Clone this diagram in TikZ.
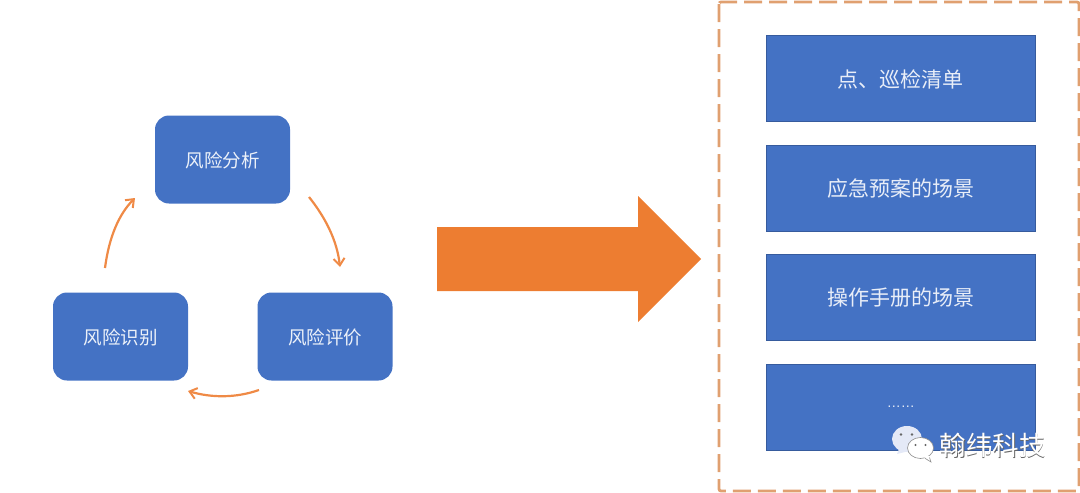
\documentclass[tikz,border=0pt]{standalone}
\usepackage{fontspec}
\setmainfont{Liberation Sans}
\newfontfamily\cjk{Noto Sans CJK SC}
\usetikzlibrary{arrows.meta,positioning}
\definecolor{boxblue}{HTML}{4472C4}
\definecolor{arrowor}{HTML}{ED7D31}
\definecolor{dashor}{HTML}{E0A070}
\definecolor{bubble}{HTML}{E4E9F7}
\newcommand{\lowr}[1]{\raisebox{-1pt}[\height][\depth]{#1}}
\tikzset{
  x=1pt,y=-1pt,
  roundbox/.style={fill=boxblue,rounded corners=14pt,minimum width=135pt,minimum height=88pt,inner sep=0pt,text=white!90!boxblue,font=\cjk\fontsize{18.5}{18.5}\selectfont},
  listbox/.style={fill=boxblue,draw=boxblue!80!black,line width=.5pt,minimum width=269.5pt,minimum height=86pt,inner sep=0pt,text=white!88!boxblue,font=\cjk\fontsize{21}{21}\selectfont},
  cyc/.style={draw=arrowor!90!white,line width=2.2pt,-{Straight Barb[length=7pt,width=11pt,line width=2pt]}},
  wm/.style={font=\cjk\fontsize{26.5}{26.5}\selectfont,inner sep=0pt}
}
\begin{document}
\begin{tikzpicture}
\useasboundingbox (0,0) rectangle (1080,493);
\node[roundbox] (analysis) at (222.5,159.5) {\lowr{风险分析}};
\node[roundbox] (identify) at (120.5,336.5) {\lowr{风险识别}};
\node[roundbox] (evaluate) at (325,336.5) {\lowr{风险评价}};
\coordinate (a1) at (105,268);
\coordinate (a2) at (135,198);
\coordinate (b1) at (309,197);
\coordinate (b2) at (340,267);
\coordinate (c1) at (259,390);
\coordinate (c2) at (188,391);
\draw[cyc] (a1) .. controls (109,237) and (119,214) .. (a2);
\draw[cyc] (b1) .. controls (325,217) and (337,240) .. (b2);
\draw[cyc] (c1) .. controls (236,398) and (212,398) .. (c2);
\fill[arrowor] (437,227) -- (638,227) -- (638,196) -- (701,259) -- (638,322) -- (638,291) -- (437,291) -- cycle;
\draw[dashor,line width=2.8pt,dash pattern=on 18pt off 7pt,rounded corners=2pt] (719,2) rectangle (1079,491);
\node[listbox] (l1) at (900.8,78) {\lowr{点、巡检清单}};
\node[listbox] (l2) at (900.8,188) {\lowr{应急预案的场景}};
\node[listbox] (l3) at (900.8,297) {\lowr{操作手册的场景}};
\node[listbox,font=\rmfamily\fontsize{14}{14}\selectfont] (l4) at (900.8,407) {……};
% watermark
\fill[bubble] (907,439) ellipse (15pt and 13pt);
\fill[bubble] (899,449) -- (909,451) -- (897,454) -- cycle;
\fill[white,draw=black!45,line width=.6pt] (920.5,448) ellipse (13pt and 10.5pt);
\fill[white] (923,456) -- (930,456) -- (931,462) -- cycle;
\draw[black!45,line width=.6pt] (925,458.3) -- (931,462) -- (929.5,457.5);
\fill[black!60] (901,434.5) circle (1.3pt) (912,434.5) circle (1.3pt) (915.5,445) circle (1.2pt) (925.5,445) circle (1.2pt);
\node[wm,text=black!60] (wms) at (993.1,445.9) {翰纬科技};
\node[wm,text=white] (wm) at (992.5,445) {翰纬科技};
\end{tikzpicture}
\end{document}
